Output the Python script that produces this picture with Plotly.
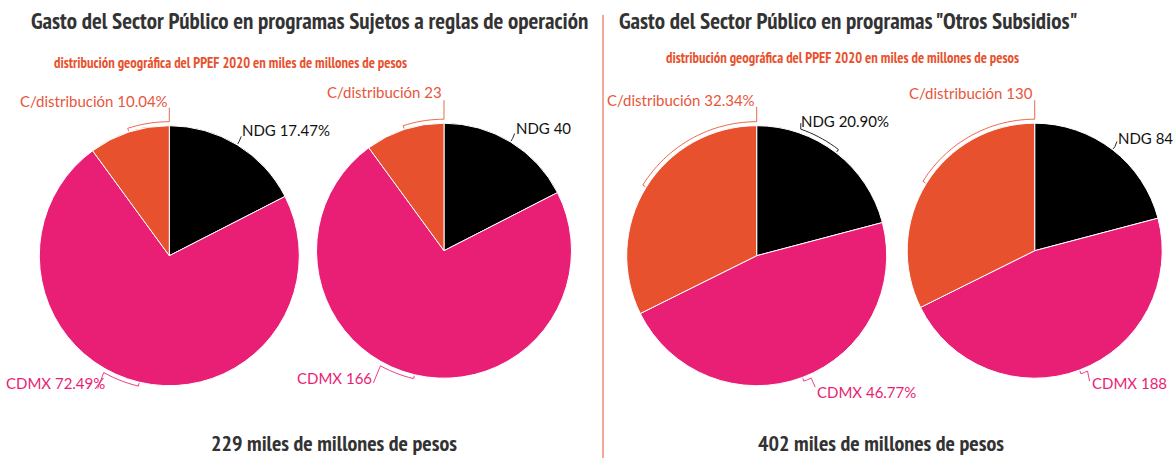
import math
import plotly.graph_objects as go

W, H = 1174, 460

# ---------------- data ----------------
categories = ["NDG", "CDMX", "C/distribución"]
sujetos_values = [40, 166, 23]        # miles de millones de pesos
otros_values = [84, 188, 130]         # miles de millones de pesos
slice_colors = ["#000000", "#E91E75", "#E8512E"]
label_colors = ["#111111", "#E91E75", "#E8553A"]

title_left = "Gasto del Sector Público en programas Sujetos a reglas de operación"
title_right = 'Gasto del Sector Público en programas "Otros Subsidios"'
subtitle = "distribución geográfica del PPEF 2020 en miles de millones de pesos"
total_fmt = "{} miles de millones de pesos"

TITLE_FONT = "Liberation Sans Narrow, PT Sans Narrow, Arial Narrow, sans-serif"
LABEL_FONT = "Lato, Noto Sans, sans-serif"

# ---------------- layout constants (window pixels) ----------------
pies = [
    dict(values=sujetos_values, mode="pct", cx=169.3, cy=255.7, r=130.0),
    dict(values=sujetos_values, mode="val", cx=444.0, cy=250.7, r=127.5),
    dict(values=otros_values, mode="pct", cx=756.7, cy=255.7, r=130.0),
    dict(values=otros_values, mode="val", cx=1034.7, cy=250.7, r=127.5),
]
# per pie, per slice: (bend angle or None=mid, leader end dx, dy, xanchor, text dx, dy)
label_layout = [
    [(None, 2, -5, "left", -1, -6), (209.3, -6, 16, "right", 9, -6), (0, 0, -14, "right", 1, -7)],
    [(None, 2, -5, "left", -1, -6), (208.9, -7, 17, "right", 1, -5), (0, 0, -19, "right", 0, -8)],
    [(19.2, 0, -6, "left", -2, -2), (156.0, 4, 9, "left", 0, 5), (0, 0, -15, "right", 0, -7)],
    [(None, 2, -5, "left", -1, -4), (156.3, 2, 10, "left", 0, 2), (0, 0, -19, "right", 0, -7)],
]


def px(x):
    return x / W


def py(y):
    return 1 - y / H


def polar(cx, cy, r, deg):
    a = math.radians(deg)
    return cx + r * math.sin(a), cy - r * math.cos(a)


fig = go.Figure()
shapes = []
annotations = []

for p, lay in zip(pies, label_layout):
    vals = p["values"]
    tot = sum(vals)
    cx, cy, r = p["cx"], p["cy"], p["r"]
    fig.add_trace(go.Pie(
        labels=categories, values=vals, sort=False, direction="clockwise", rotation=0,
        marker=dict(colors=slice_colors, line=dict(color="#ffffff", width=1)),
        textinfo="none", hoverinfo="label+value+percent", showlegend=False,
        domain=dict(x=[px(cx - r), px(cx + r)], y=[py(cy + r), py(cy - r)]),
    ))
    cum = 0.0
    for i, v in enumerate(vals):
        mid = (cum + v / 2) / tot * 360.0
        cum += v
        bend, ex, ey, xa, tdx, tdy = lay[i]
        if bend is None:
            bend = mid
        if bend - mid > 180:
            bend -= 360
        elif bend - mid < -180:
            bend += 360
        ro = r + 4
        pts = [polar(cx, cy, r + 1, mid), polar(cx, cy, ro, mid)]
        n = max(2, int(abs(bend - mid) / 2))
        for k in range(1, n + 1):
            pts.append(polar(cx, cy, ro, mid + (bend - mid) * k / n))
        bx, by = pts[-1]
        end = (bx + ex, by + ey)
        pts.append(end)
        path = "M " + " L ".join(f"{px(x):.5f},{py(y):.5f}" for x, y in pts)
        shapes.append(dict(type="path", path=path, xref="paper", yref="paper",
                           line=dict(color=slice_colors[i], width=1), opacity=0.85, layer="above"))
        if p["mode"] == "pct":
            txt = f"{categories[i]} {v / tot * 100:.2f}%"
        else:
            txt = f"{categories[i]} {v}"
        annotations.append(dict(x=px(end[0] + tdx), y=py(end[1] + tdy), xref="paper", yref="paper",
                                text=txt, showarrow=False, xanchor=xa, yanchor="middle",
                                font=dict(family=LABEL_FONT, size=15, color=label_colors[i])))

# titles / subtitles / totals
for txt, x, y, size, color in [
    (title_left, 309, 21, 23, "#333333"),
    (title_right, 849, 21, 23, "#333333"),
    (subtitle, 230, 62, 14.5, "#E8512E"),
    (subtitle, 842, 58, 14.5, "#E8512E"),
    (total_fmt.format(sum(sujetos_values)), 334, 443, 22, "#333333"),
    (total_fmt.format(sum(otros_values)), 881, 443, 22, "#333333"),
]:
    annotations.append(dict(x=px(x), y=py(y), xref="paper", yref="paper", text=f"<b>{txt}</b>",
                            showarrow=False, xanchor="center", yanchor="middle",
                            font=dict(family=TITLE_FONT, size=size, color=color)))

# divider
shapes.append(dict(type="line", xref="paper", yref="paper", x0=px(603), x1=px(603), y0=py(15), y1=py(458),
                   line=dict(color="#E8512E", width=1)))

fig.update_layout(width=W, height=H, margin=dict(l=0, r=0, t=0, b=0),
                  paper_bgcolor="#ffffff", plot_bgcolor="#ffffff",
                  shapes=shapes, annotations=annotations)

fig.write_html("out.html", config={"displayModeBar": False},
               post_script="document.body.style.margin='0';document.body.style.overflow='hidden';")
